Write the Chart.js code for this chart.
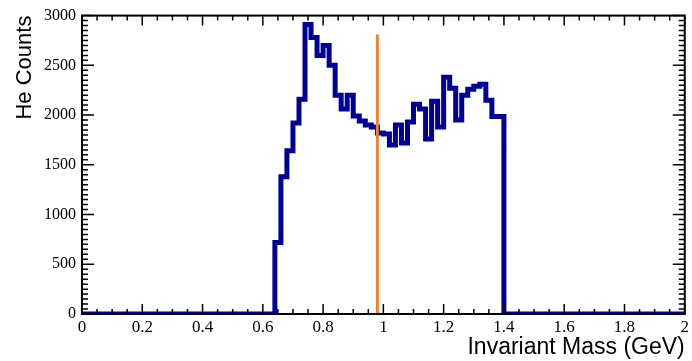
<!DOCTYPE html>
<html>
<head>
<meta charset="utf-8">
<script src="https://cdn.jsdelivr.net/npm/chart.js@4"></script>
<style>
  body { margin: 0; background: #fff; }
  canvas { display: block; }
</style>
</head>
<body>
<canvas id="massChart" width="692" height="361"></canvas>
<script>
// histogram range and binning
var xMin = 0;
var xMax = 2;
var binWidth = 0.02;
var firstBin = 0.64;
// He counts per 0.02 GeV bin, starting at 0.64 GeV (zero elsewhere)
var heCounts = [720, 1380, 1640, 1920, 2160, 2910, 2780, 2600, 2700, 2500,
                2200, 2060, 2200, 1990, 1940, 1900, 1880, 1820, 1810, 1700,
                1900, 1720, 1930, 2110, 2060, 1760, 2140, 1880, 2380, 2270,
                1950, 2200, 2260, 2290, 2310, 2150, 1985, 1985];
// vertical marker line
var cutMass = [0.98, 0.98];
var cutLevel = [0, 2810];
// axis ticks
var xTickStep = 0.2;
var yTickStep = 500;
var yMax = 3000;

// step outline of the histogram
var histPoints = [{x: xMin, y: 0}];
for (var i = 0; i < heCounts.length; i++) {
    histPoints.push({x: firstBin + i * binWidth, y: heCounts[i]});
}
histPoints.push({x: firstBin + heCounts.length * binWidth, y: 0});
histPoints.push({x: xMax, y: 0});

var cutPoints = cutMass.map(function (m, i) { return {x: m, y: cutLevel[i]}; });

var serif = "'Liberation Serif', 'Times New Roman', serif";
var sans = "'Liberation Sans', Arial, sans-serif";

// ROOT-like frame with inward ticks on all four sides
var frameTicks = {
    id: 'frameTicks',
    afterDatasetsDraw: function (chart) {
        var ctx = chart.ctx;
        var a = chart.chartArea;
        var sx = chart.scales.x;
        var sy = chart.scales.y;
        ctx.save();
        ctx.strokeStyle = '#000';
        ctx.lineWidth = 2;
        ctx.strokeRect(a.left, a.top, a.right - a.left, a.bottom - a.top);
        ctx.lineWidth = 1.5;
        ctx.beginPath();
        for (var i = 0; i <= 40; i++) {
            var px = sx.getPixelForValue(i * 0.05);
            var len = (i % 4 === 0) ? 10 : 5;
            ctx.moveTo(px, a.bottom); ctx.lineTo(px, a.bottom - len);
            ctx.moveTo(px, a.top); ctx.lineTo(px, a.top + len);
        }
        for (var j = 0; j <= 60; j++) {
            var py = sy.getPixelForValue(j * 50);
            var ylen = (j % 10 === 0) ? 12 : 6;
            ctx.moveTo(a.left, py); ctx.lineTo(a.left + ylen, py);
            ctx.moveTo(a.right, py); ctx.lineTo(a.right - ylen, py);
        }
        ctx.stroke();
        ctx.restore();
    }
};

var ctx = document.getElementById('massChart');
var massChart = new Chart(ctx, {
    type: 'line',
    data: {
        datasets: [{
            data: cutPoints,
            borderColor: '#ee8033',
            borderWidth: 3,
            pointRadius: 0
        }, {
            data: histPoints,
            stepped: 'before',
            borderColor: '#000099',
            borderWidth: 5,
            pointRadius: 0
        }]
    },
    options: {
        responsive: false,
        animation: false,
        devicePixelRatio: 1,
        layout: {
            padding: {top: 13, right: 6, left: 0, bottom: 0}
        },
        plugins: {
            legend: {display: false},
            tooltip: {enabled: false}
        },
        scales: {
            x: {
                type: 'linear',
                min: xMin,
                max: xMax,
                grid: {display: false, drawTicks: false},
                border: {display: false},
                afterFit: function (scale) { scale.height = 47; },
                ticks: {
                    stepSize: xTickStep,
                    padding: 3,
                    color: '#000',
                    maxRotation: 0,
                    font: {family: serif, size: 17},
                    callback: function (v) { return String(Math.round(v * 10) / 10); }
                },
                title: {
                    display: true,
                    text: 'Invariant Mass (GeV)',
                    align: 'end',
                    color: '#000',
                    padding: {top: 0, bottom: 0},
                    font: {family: sans, size: 23}
                }
            },
            y: {
                type: 'linear',
                min: 0,
                max: yMax,
                grid: {display: false, drawTicks: false},
                border: {display: false},
                afterFit: function (scale) { scale.width = 82; },
                ticks: {
                    stepSize: yTickStep,
                    padding: 6,
                    color: '#000',
                    font: {family: serif, size: 16},
                    callback: function (v) { return String(v); }
                },
                title: {
                    display: true,
                    text: 'He Counts',
                    align: 'end',
                    color: '#000',
                    padding: {top: 12, bottom: 0},
                    font: {family: sans, size: 22}
                }
            }
        }
    },
    plugins: [frameTicks]
});
</script>
</body>
</html>
